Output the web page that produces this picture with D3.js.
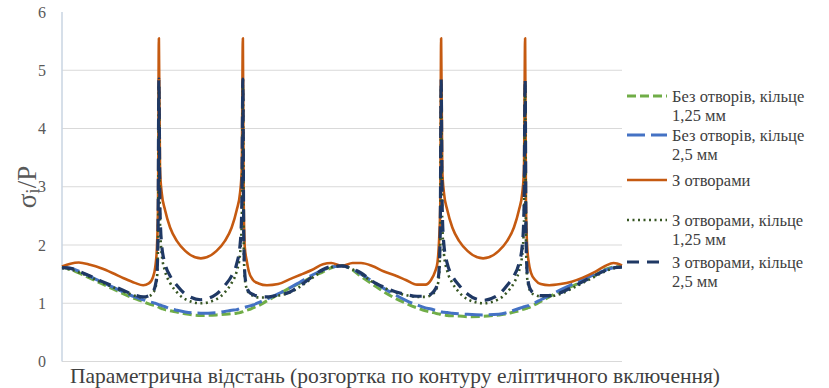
<!DOCTYPE html>
<html>
<head>
<meta charset="utf-8">
<script src="https://cdn.jsdelivr.net/npm/d3@7/dist/d3.min.js"></script>
</head>
<body style="margin:0">
<svg id="chart" width="829" height="388"></svg>
<script>
// parametric distance (two periods of the elliptic contour)
const tPoints = [
  0, 3, 6, 10, 14, 18, 22, 26, 29, 31, 32.5, 33.3, 33.9, 34.3, 34.6, 35.0, 35.6, 36.8, 38.6, 41,
  44, 49.6, 55.2, 58.2, 60.6, 62.4, 63.6, 64.2, 64.6, 64.9, 65.3, 65.9, 66.7, 68.2, 70.2, 73.2, 77.2, 81.2, 85.2, 89.2,
  93.2, 96.2, 100,
  103.8, 106.8, 110.8, 114.8, 118.8, 122.8, 126.8, 129.8, 131.8, 133.3, 134.1, 134.7, 135.1, 135.4, 135.8, 136.4, 137.6, 139.4,
  141.8, 144.8, 150.4, 156, 159, 161.4, 163.2, 164.4, 165, 165.4, 165.7, 166.1, 166.7, 167.5, 169, 171, 174, 178, 182, 186,
  190, 194, 197, 200
]

// Без отворів, кільце 1,25 мм
const noHoles125 = [
  1.63, 1.58, 1.52, 1.43, 1.34, 1.25, 1.16, 1.08, 1.03, 0.99, 0.97, 0.96, 0.95, 0.94, 0.93, 0.92, 0.91, 0.89, 0.87, 0.85,
  0.82, 0.79, 0.80, 0.81, 0.82, 0.83, 0.84, 0.85, 0.855, 0.86, 0.865, 0.88, 0.89, 0.92, 0.96, 1.04, 1.15, 1.26, 1.35, 1.45,
  1.54, 1.61, 1.65,
  1.57, 1.46, 1.33, 1.20, 1.09, 1.00, 0.92, 0.87, 0.85, 0.83, 0.82, 0.815, 0.81, 0.805, 0.80, 0.80, 0.79, 0.785,
  0.78, 0.77, 0.775, 0.80, 0.82, 0.85, 0.87, 0.89, 0.90, 0.905, 0.91, 0.915, 0.925, 0.94, 0.98, 1.03, 1.11, 1.21, 1.29, 1.38,
  1.47, 1.58, 1.62, 1.63
]

// Без отворів, кільце 2,5 мм
const noHoles25 = [
  1.62, 1.60, 1.55, 1.46, 1.37, 1.28, 1.19, 1.11, 1.06, 1.03, 1.01, 1.00, 0.99, 0.98, 0.975, 0.97, 0.96, 0.94, 0.91, 0.88,
  0.85, 0.83, 0.84, 0.86, 0.88, 0.89, 0.91, 0.915, 0.92, 0.925, 0.93, 0.94, 0.95, 0.97, 1.01, 1.07, 1.16, 1.26, 1.37, 1.48,
  1.57, 1.62, 1.64,
  1.58, 1.50, 1.38, 1.26, 1.15, 1.05, 0.97, 0.92, 0.90, 0.88, 0.87, 0.865, 0.86, 0.855, 0.85, 0.845, 0.84, 0.83,
  0.82, 0.81, 0.80, 0.81, 0.84, 0.88, 0.91, 0.93, 0.94, 0.945, 0.95, 0.955, 0.96, 0.98, 1.01, 1.06, 1.13, 1.23, 1.32, 1.41,
  1.49, 1.57, 1.61, 1.62
]

// З отворами
const holes = [
  1.63, 1.68, 1.70, 1.66, 1.60, 1.52, 1.43, 1.35, 1.31, 1.34, 1.45, 1.62, 1.95, 2.7, 5.55, 3.3, 2.9, 2.6, 2.3, 2.07,
  1.9, 1.77, 1.9, 2.07, 2.3, 2.6, 2.9, 3.3, 5.55, 2.7, 1.95, 1.75, 1.55, 1.40, 1.34, 1.31, 1.33, 1.41, 1.49, 1.57,
  1.67, 1.69, 1.64,
  1.69, 1.69, 1.64, 1.55, 1.48, 1.40, 1.32, 1.32, 1.40, 1.55, 1.70, 2.1, 2.7, 5.55, 3.3, 2.9, 2.6, 2.3,
  2.07, 1.9, 1.77, 1.9, 2.07, 2.3, 2.6, 2.9, 3.3, 5.55, 2.7, 2.0, 1.7, 1.52, 1.40, 1.33, 1.31, 1.33, 1.37, 1.44,
  1.53, 1.64, 1.69, 1.65
]

// З отворами, кільце 1,25 мм
const holes125 = [
  1.60, 1.58, 1.53, 1.45, 1.36, 1.28, 1.20, 1.13, 1.10, 1.12, 1.18, 1.26, 1.42, 2.0, 4.75, 2.4, 1.85, 1.55, 1.35, 1.19,
  1.07, 1.00, 1.07, 1.19, 1.35, 1.55, 1.85, 2.4, 4.75, 2.0, 1.42, 1.26, 1.18, 1.13, 1.10, 1.10, 1.13, 1.18, 1.29, 1.43,
  1.56, 1.62, 1.64,
  1.58, 1.50, 1.37, 1.27, 1.19, 1.14, 1.11, 1.11, 1.14, 1.21, 1.30, 1.50, 2.1, 4.75, 2.4, 1.85, 1.55, 1.35,
  1.19, 1.07, 1.00, 1.07, 1.19, 1.35, 1.55, 1.85, 2.4, 4.75, 2.1, 1.45, 1.28, 1.19, 1.14, 1.12, 1.12, 1.16, 1.25, 1.35,
  1.45, 1.55, 1.60, 1.62
]

// З отворами, кільце 2,5 мм
const holes25 = [
  1.61, 1.60, 1.55, 1.47, 1.38, 1.30, 1.22, 1.14, 1.11, 1.13, 1.20, 1.30, 1.50, 2.2, 4.85, 2.6, 2.0, 1.68, 1.47, 1.31,
  1.16, 1.06, 1.16, 1.31, 1.47, 1.68, 2.0, 2.6, 4.85, 2.2, 1.50, 1.30, 1.20, 1.15, 1.12, 1.11, 1.14, 1.19, 1.31, 1.45,
  1.58, 1.63, 1.64,
  1.59, 1.52, 1.38, 1.28, 1.20, 1.15, 1.12, 1.12, 1.16, 1.24, 1.35, 1.60, 2.3, 4.85, 2.6, 2.0, 1.68, 1.47,
  1.31, 1.16, 1.05, 1.15, 1.31, 1.47, 1.68, 2.0, 2.6, 4.85, 2.3, 1.55, 1.32, 1.22, 1.16, 1.13, 1.13, 1.18, 1.27, 1.37,
  1.47, 1.56, 1.61, 1.62
]

const yTicks = [0, 1, 2, 3, 4, 5, 6]

const series = [
  {name: ['Без отворів, кільце', '1,25 мм'], values: noHoles125, color: '#70ad47', dash: '9,4', width: 3},
  {name: ['Без отворів, кільце', '2,5 мм'], values: noHoles25, color: '#4472c4', dash: '18,6', width: 3},
  {name: ['З отворами'], values: holes, color: '#c55a11', dash: null, width: 2.6},
  {name: ['З отворами, кільце', '1,25 мм'], values: holes125, color: '#375623', dash: '2,3.5', width: 2.6},
  {name: ['З отворами, кільце', '2,5 мм'], values: holes25, color: '#1f3864', dash: '12,8', width: 3.2}
]

const svg = d3.select('#chart')

// serif text
function txt(sel) {
  return sel.style('font-family', d => '"Liberation Serif"')
}

const x = d3.scaleLinear().domain([0, 200]).range([62, 622])
const y = d3.scaleLinear().domain([0, 6]).range([361.5, 12])

// gridlines
svg.append('g')
  .selectAll('line')
  .data(yTicks.filter(d => d < 6))
  .enter().append('line')
  .attr('x1', x(0)).attr('x2', x(200))
  .attr('y1', d => y(d)).attr('y2', d => y(d))
  .attr('stroke', '#d9d9d9').attr('stroke-width', 1)

// vertical axis line
svg.append('line')
  .attr('x1', x(0)).attr('x2', x(0))
  .attr('y1', y(6)).attr('y2', y(0))
  .attr('stroke', '#c9d5e2').attr('stroke-width', 1.5)

// tick labels
txt(svg.append('g')
  .selectAll('text')
  .data(yTicks)
  .enter().append('text'))
  .attr('x', 42)
  .attr('y', d => y(d) + 5.5)
  .attr('text-anchor', 'middle')
  .attr('font-size', 16)
  .attr('fill', '#595959')
  .text(d => d)

// axis titles
let yt = txt(svg.append('text'))
  .attr('transform', 'translate(36,187) rotate(-90)')
  .attr('text-anchor', 'middle')
  .attr('font-size', 27)
  .attr('fill', '#595959')
yt.append('tspan').text('σ')
yt.append('tspan').attr('font-size', 19).attr('dy', 3).text('i')
yt.append('tspan').attr('dy', -3).text('/P')

txt(svg.append('text'))
  .attr('x', 395).attr('y', 383)
  .attr('text-anchor', 'middle')
  .attr('font-size', 21.5)
  .attr('fill', '#404040')
  .text('Параметрична відстань (розгортка по контуру еліптичного включення)')

// lines
const line = d3.line()
  .x((d, i) => x(tPoints[i]))
  .y(d => y(d))
  .curve(d3.curveMonotoneX)

svg.append('g')
  .selectAll('path')
  .data(series)
  .enter().append('path')
  .attr('d', d => line(d.values))
  .attr('fill', 'none')
  .attr('stroke', d => d.color)
  .attr('stroke-width', d => d.width)
  .attr('stroke-dasharray', d => d.dash)
  .attr('stroke-linejoin', 'round')

// legend
const legendY = [96, 135, 180, 220, 262]
const leg = svg.append('g')
  .selectAll('g')
  .data(series)
  .enter().append('g')
  .attr('transform', (d, i) => `translate(0,${legendY[i]})`)

leg.append('line')
  .attr('x1', 627).attr('x2', 667)
  .attr('y1', 0).attr('y2', 0)
  .attr('stroke', d => d.color)
  .attr('stroke-width', d => d.width)
  .attr('stroke-dasharray', d => d.dash)

leg.each(function(d) {
  txt(d3.select(this).selectAll('text')
    .data(d.name)
    .enter().append('text'))
    .attr('x', 672)
    .attr('y', (s, j) => j * 18.5 + 6)
    .attr('font-size', 16.5)
    .attr('fill', '#404040')
    .text(s => s)
})
</script>
</body>
</html>
